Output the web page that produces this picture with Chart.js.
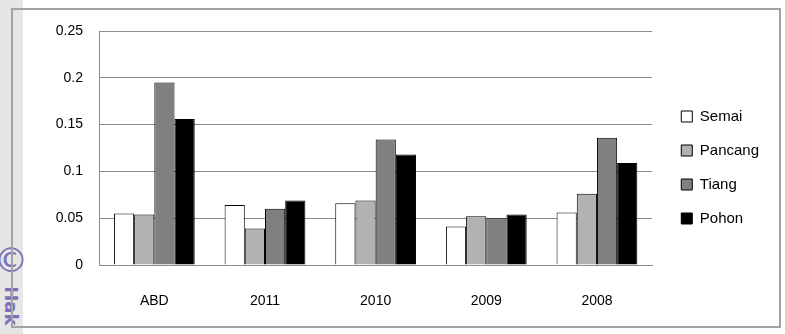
<!DOCTYPE html>
<html>
<head>
<meta charset="utf-8">
<script src="https://cdn.jsdelivr.net/npm/chart.js@4"></script>
<style>
  body { margin: 0; background: #fff; }
  #wrap { position: relative; width: 785px; height: 334px; overflow: hidden; }
  #strip { position: absolute; left: 0; top: 0; width: 23px; height: 334px; background: #e6e6e6; }
  #mark { position: absolute; left: -1px; top: 240px; writing-mode: vertical-rl; color: #7a70b8;
          font-family: "DejaVu Sans", sans-serif; font-weight: bold; font-size: 18px; line-height: 24px; }
  #mark .c { font-size: 34px; font-weight: normal; }
  #frame { position: absolute; left: 11px; top: 8px; width: 766px; height: 316px;
           border: 2px solid #a3a3a3; pointer-events: none; }
  canvas { position: absolute; left: 0; top: 0; }
</style>
</head>
<body>
<div id="wrap">
  <div id="strip"></div>
  <div id="mark"><span class="c">©</span> Hak</div>
  <canvas id="chart" width="785" height="334"></canvas>
  <div id="frame"></div>
</div>
<script>
const categories = ['ABD', '2011', '2010', '2009', '2008'];
const semai   = [0.055, 0.064, 0.066, 0.041, 0.056];
const pancang = [0.054, 0.039, 0.069, 0.052, 0.076];
const tiang   = [0.195, 0.060, 0.134, 0.050, 0.136];
const pohon   = [0.156, 0.069, 0.118, 0.054, 0.109];
const yTickLabels = ['0', '0.05', '0.1', '0.15', '0.2', '0.25'];

const font = { family: '"Liberation Sans", Arial, sans-serif', size: 14 };

function ds(label, data, color) {
  return {
    label: label,
    data: data,
    backgroundColor: color,
    borderColor: '#000',
    borderWidth: 1,
    barPercentage: 1,
    categoryPercentage: 0.73
  };
}

const ctx = document.getElementById('chart').getContext('2d');
new Chart(ctx, {
  type: 'bar',
  data: {
    labels: categories,
    datasets: [
      ds('Semai', semai, '#ffffff'),
      ds('Pancang', pancang, '#b2b2b2'),
      ds('Tiang', tiang, '#808080'),
      ds('Pohon', pohon, '#000000')
    ]
  },
  options: {
    responsive: false,
    animation: false,
    layout: { padding: { left: 0, top: 9, right: 16, bottom: 8 } },
    plugins: {
      tooltip: { enabled: false },
      legend: {
        position: 'right',
        labels: {
          color: '#000',
          font: { family: font.family, size: 15 },
          boxWidth: 11,
          boxHeight: 11,
          padding: 19
        }
      }
    },
    scales: {
      x: {
        grid: { display: false },
        border: { color: '#8c8c8c' },
        ticks: { color: '#000', font: font, padding: 20 },
        afterFit(s) { s.height = 61; }
      },
      y: {
        min: 0,
        max: 0.25,
        ticks: {
          stepSize: 0.05,
          color: '#000',
          font: font,
          padding: 16,
          callback: (v, i) => yTickLabels[i]
        },
        grid: { color: '#8c8c8c', drawTicks: false },
        border: { color: '#8c8c8c' },
        afterFit(s) { s.width = 99; }
      },
      // empty axes used only as spacers (top margin, gap before legend)
      xTop: {
        type: 'linear',
        position: 'top',
        grid: { display: false },
        border: { display: false },
        ticks: { display: false },
        afterFit(s) { s.height = 22; }
      },
      yGap: {
        type: 'linear',
        position: 'right',
        grid: { display: false },
        border: { display: false },
        ticks: { display: false },
        afterFit(s) { s.width = 10; }
      }
    }
  }
});
</script>
</body>
</html>
